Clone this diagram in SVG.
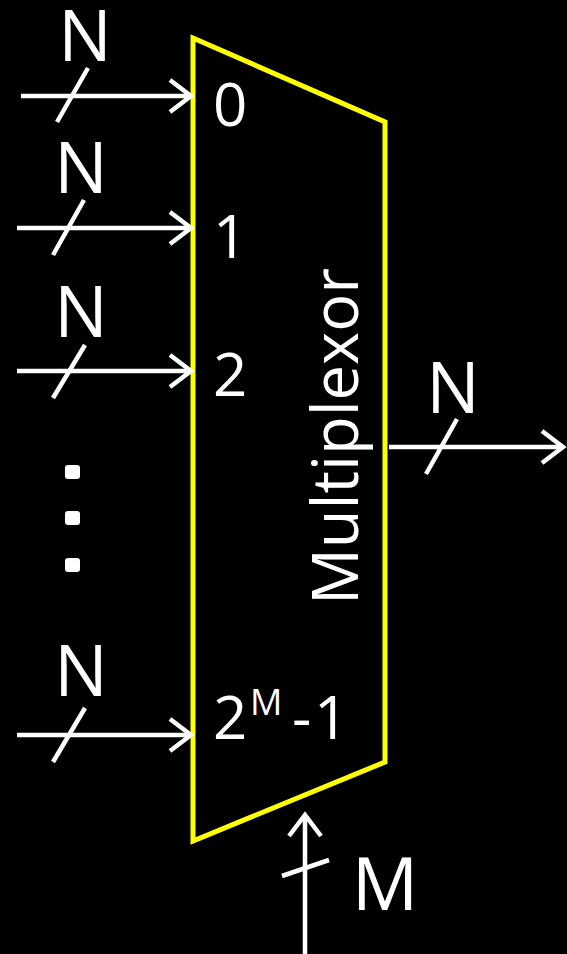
<svg xmlns="http://www.w3.org/2000/svg" width="567" height="954" viewBox="0 0 567 954">
<defs>
<style>
.w{stroke:#fff;stroke-width:4.5;fill:none}
.lbl{fill:#fff;font-family:"Open Sans","Liberation Sans",sans-serif}
.n{font-size:71px;text-anchor:middle}
.d{font-size:60px}
</style>
<marker id="ah" markerUnits="userSpaceOnUse" viewBox="-26 -20 30 40" markerWidth="30" markerHeight="40" refX="0" refY="0" orient="auto">
<path d="M-21,-16 L0,0 L-21,16" fill="none" stroke="#fff" stroke-width="4.5"/>
</marker>
</defs>
<rect width="567" height="954" fill="#000"/>
<g id="mux">
<polygon points="193,38 385,122 385,762 193,841" fill="none" stroke="#ffff00" stroke-width="5" stroke-linejoin="miter"/>
<text class="lbl" font-size="64" x="358" y="605" transform="rotate(-90 358 605)" textLength="337" lengthAdjust="spacingAndGlyphs">Multiplexor</text>
<text class="lbl d" x="213" y="126">0</text>
<text class="lbl d" x="213" y="258">1</text>
<text class="lbl d" x="213" y="396">2</text>
<text class="lbl d"><tspan x="213" y="739">2</tspan><tspan x="250" y="715" font-size="36">M</tspan><tspan x="292 314" y="739">-1</tspan></text>
</g>
<g id="connectors">
<line class="w" x1="21" y1="96" x2="191" y2="96" marker-end="url(#ah)"/>
<line class="w" x1="17" y1="228" x2="191" y2="228" marker-end="url(#ah)"/>
<line class="w" x1="17" y1="371" x2="191" y2="371" marker-end="url(#ah)"/>
<line class="w" x1="17" y1="735" x2="191" y2="735" marker-end="url(#ah)"/>
<line class="w" x1="389" y1="447" x2="563" y2="447" marker-end="url(#ah)"/>
<line class="w" x1="305" y1="954" x2="305" y2="815" marker-end="url(#ah)"/>
<line class="w" x1="57" y1="122" x2="88" y2="68"/>
<line class="w" x1="53" y1="255" x2="84" y2="200"/>
<line class="w" x1="53" y1="398" x2="85" y2="345"/>
<line class="w" x1="53" y1="762" x2="85" y2="708"/>
<line class="w" x1="426" y1="474" x2="457" y2="419"/>
<line class="w" x1="282" y1="876" x2="329" y2="860"/>
</g>
<g id="labels">
<text class="lbl n" x="85" y="61">N</text>
<text class="lbl n" x="81" y="193">N</text>
<text class="lbl n" x="81" y="337">N</text>
<text class="lbl n" x="81" y="696">N</text>
<text class="lbl n" x="453" y="413">N</text>
<text class="lbl" font-size="74" text-anchor="middle" x="385" y="910">M</text>
</g>
<g id="dots" fill="#fff">
<rect x="65" y="465" width="15" height="14" rx="3"/>
<rect x="65" y="511" width="15" height="14" rx="3"/>
<rect x="65" y="558" width="15" height="14" rx="3"/>
</g>
</svg>
